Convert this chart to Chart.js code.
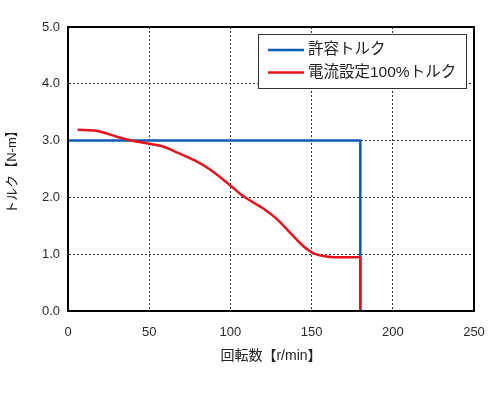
<!DOCTYPE html>
<html>
<head>
<meta charset="utf-8">
<script src="https://cdn.jsdelivr.net/npm/chart.js@4/dist/chart.umd.min.js"></script>
<style>
  html, body { margin: 0; padding: 0; background: #ffffff; }
  #wrap { width: 500px; height: 395px; }
</style>
</head>
<body>
<div id="wrap"><canvas id="c" width="500" height="395"></canvas></div>
<script>
// ---- data ----
const seriesLabels = ['許容トルク', '電流設定100%トルク'];
const xTitle = '回転数【r/min】';
const yTitle = 'トルク【N-m】';

const allowRpm    = [0, 180, 180];
const allowTorque = [3.0, 3.0, 0];

const currentRpm    = [6, 18, 31, 41, 49, 58, 68, 78, 87, 100, 108, 120, 129, 137, 145, 151, 159, 170, 180];
const currentTorque = [3.19, 3.17, 3.06, 2.99, 2.95, 2.90, 2.78, 2.65, 2.50, 2.21, 2.02, 1.81, 1.61, 1.37, 1.14, 1.02, 0.96, 0.945, 0.95];

const dropRpm    = [180, 180];
const dropTorque = [0.95, 0];

const xTicks = [0, 50, 100, 150, 200, 250];
const yTicks = [0, 1, 2, 3, 4, 5];

const BLUE = '#0a5cb0';
const RED = '#e8121c';
const FONT = '"Liberation Sans", "Noto Sans CJK JP", sans-serif';

const pts = (xs, ys) => xs.map((x, i) => ({x: x, y: ys[i]}));

const frameAndLegend = {
  id: 'frameAndLegend',
  afterDraw(chart) {
    const ctx = chart.ctx;
    const a = chart.chartArea;
    ctx.save();
    ctx.strokeStyle = '#000';
    ctx.lineWidth = 2;
    ctx.strokeRect(a.left, a.top, a.right - a.left, a.bottom - a.top);

    // legend box
    const bx = 258.5, by = 34.5, bw = 208, bh = 54;
    ctx.fillStyle = '#fff';
    ctx.fillRect(bx, by, bw, bh);
    ctx.strokeStyle = '#333';
    ctx.lineWidth = 1;
    ctx.strokeRect(bx, by, bw, bh);
    const items = [
      {label: chart.data.datasets[0].label, color: chart.data.datasets[0].borderColor, y: 50},
      {label: chart.data.datasets[1].label, color: chart.data.datasets[1].borderColor, y: 72.5}
    ];
    ctx.font = '15.5px ' + FONT;
    ctx.textBaseline = 'middle';
    ctx.textAlign = 'left';
    items.forEach(it => {
      ctx.strokeStyle = it.color;
      ctx.lineWidth = 2.5;
      ctx.beginPath();
      ctx.moveTo(268, it.y);
      ctx.lineTo(304, it.y);
      ctx.stroke();
      ctx.fillStyle = '#222';
      ctx.fillText(it.label, 308, it.y);
    });
    ctx.restore();
  }
};

new Chart(document.getElementById('c'), {
  type: 'scatter',
  data: {
    datasets: [
      {label: seriesLabels[0], data: pts(allowRpm, allowTorque), showLine: true, borderColor: BLUE, backgroundColor: BLUE, borderWidth: 2.5, pointRadius: 0, tension: 0, order: 2},
      {label: seriesLabels[1], data: pts(currentRpm, currentTorque), showLine: true, borderColor: RED, backgroundColor: RED, borderWidth: 2.5, pointRadius: 0, cubicInterpolationMode: 'monotone', order: 1},
      {label: seriesLabels[1], data: pts(dropRpm, dropTorque), showLine: true, borderColor: RED, backgroundColor: RED, borderWidth: 2.5, pointRadius: 0, tension: 0, order: 0}
    ]
  },
  options: {
    responsive: false,
    animation: false,
    layout: {padding: {top: 27, right: 26, left: 0, bottom: 0}},
    plugins: {legend: {display: false}, tooltip: {enabled: false}},
    scales: {
      x: {
        type: 'linear', min: 0, max: 250,
        afterBuildTicks: s => { s.ticks = xTicks.map(v => ({value: v})); },
        afterFit: s => { s.height = 84; },
        ticks: {color: '#2a2a2a', font: {family: FONT, size: 13}, padding: 14},
        grid: {color: '#333', lineWidth: 1, drawTicks: false},
        border: {display: true, color: '#000', width: 2, dash: [2, 2]},
        title: {display: true, text: xTitle, color: '#222', font: {family: FONT, size: 14}, padding: {top: 0, bottom: 30}}
      },
      y: {
        type: 'linear', min: 0, max: 5,
        afterBuildTicks: s => { s.ticks = yTicks.map(v => ({value: v})); },
        afterFit: s => { s.width = 68; },
        ticks: {color: '#2a2a2a', font: {family: FONT, size: 13}, padding: 8, callback: v => Number(v).toFixed(1)},
        grid: {color: '#333', lineWidth: 1, drawTicks: false},
        border: {display: true, color: '#000', width: 2, dash: [2, 2]},
        title: {display: true, text: yTitle, color: '#222', font: {family: FONT, size: 13}, padding: {top: 5, bottom: 0}}
      }
    }
  },
  plugins: [frameAndLegend]
});
</script>
</body>
</html>
